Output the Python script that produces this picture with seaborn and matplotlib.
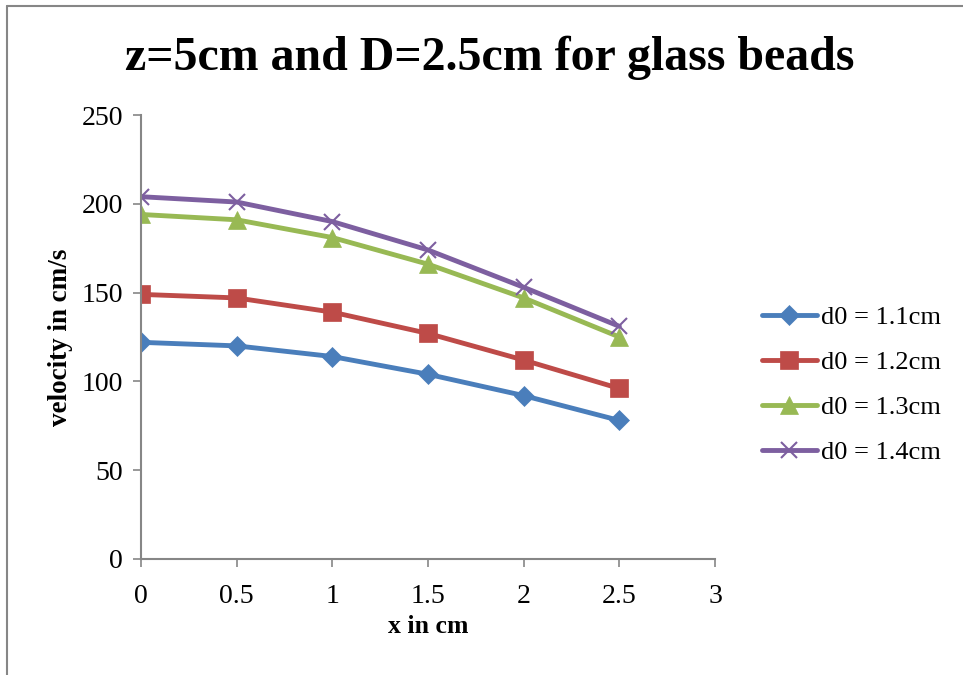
"""Velocidade vs x para esferas de vidro"""
import matplotlib
matplotlib.use("Agg")
import matplotlib.pyplot as plt
from matplotlib.lines import Line2D
import pandas as pd
import seaborn as sns

# Dados
x_cm = [0, 0.5, 1, 1.5, 2, 2.5]
v_d11 = [122, 120, 114, 104, 92, 78]
v_d12 = [149, 147, 139, 127, 112, 96]
v_d13 = [194, 191, 181, 166, 147, 125]
v_d14 = [204, 201, 190, 174, 153, 131]
series_labels = ["d0 = 1.1cm", "d0 = 1.2cm", "d0 = 1.3cm", "d0 = 1.4cm"]

cores = ["#4A7EBB", "#BE4B48", "#98B954", "#7D5FA0"]
marcadores = ["D", "s", "^", "x"]
tam_marcador = [10, 13, 13, 12]

df = pd.concat([
    pd.DataFrame({"x": x_cm, "v": vals, "serie": lab})
    for vals, lab in zip([v_d11, v_d12, v_d13, v_d14], series_labels)
])

sns.set_style("white")
plt.rcParams["font.family"] = ["Liberation Serif", "DejaVu Serif"]
plt.rcParams["text.color"] = "black"

fig = plt.figure(figsize=(9.63, 6.75), dpi=100)
ax = fig.add_axes([0.1464, 0.1719, 0.5961, 0.6577])

for i, lab in enumerate(series_labels):
    sub = df[df["serie"] == lab]
    sns.lineplot(data=sub, x="x", y="v", ax=ax, color=cores[i], linewidth=3.5,
                 marker=marcadores[i], markersize=tam_marcador[i],
                 markeredgecolor=cores[i], markeredgewidth=1.5 if marcadores[i] == "x" else 0.5,
                 label=lab, legend=False)

ax.set_xlim(0, 3)
ax.set_ylim(0, 250)
ax.set_xticks([0, 0.5, 1, 1.5, 2, 2.5, 3])
ax.set_xticklabels(["0", "0.5", "1", "1.5", "2", "2.5", "3"])
ax.set_yticks([0, 50, 100, 150, 200, 250])
ax.tick_params(axis="both", labelsize=20, colors="#868686", labelcolor="black",
               length=6, width=1.2, direction="out", bottom=True, left=True)
ax.tick_params(axis="x", pad=12)
ax.tick_params(axis="y", pad=7)
for s in ["top", "right"]:
    ax.spines[s].set_visible(False)
for s in ["left", "bottom"]:
    ax.spines[s].set_color("#868686")
    ax.spines[s].set_linewidth(1.5)

ax.set_xlabel("x in cm", fontsize=18.5, fontweight="bold", color="black", labelpad=4)
ax.set_ylabel("velocity in cm/s", fontsize=19.5, fontweight="bold", color="black", labelpad=6)

fig.text(0.508, 0.915, "z=5cm and D=2.5cm for glass beads", ha="center", va="center",
         fontsize=34.5, fontweight="bold", color="black")

handles = [Line2D([], [], color=cores[i], linewidth=3.5, marker=marcadores[i],
                  markersize=tam_marcador[i], markeredgecolor=cores[i],
                  markeredgewidth=1.5 if marcadores[i] == "x" else 0.5)
           for i in range(4)]
fig.legend(handles, series_labels, loc="center left", bbox_to_anchor=(0.791, 0.430),
           frameon=False, fontsize=19, handlelength=2.1, handletextpad=0.15,
           labelspacing=0.82, borderpad=0, borderaxespad=0)

# moldura externa (lado esquerdo e topo)
fig.add_artist(Line2D([7 / 963, 7 / 963], [0, 1 - 6 / 675], color="#868686", linewidth=1.5))
fig.add_artist(Line2D([7 / 963, 1], [1 - 6 / 675, 1 - 6 / 675], color="#868686", linewidth=1.5))

fig.savefig("out.png", dpi=100)
